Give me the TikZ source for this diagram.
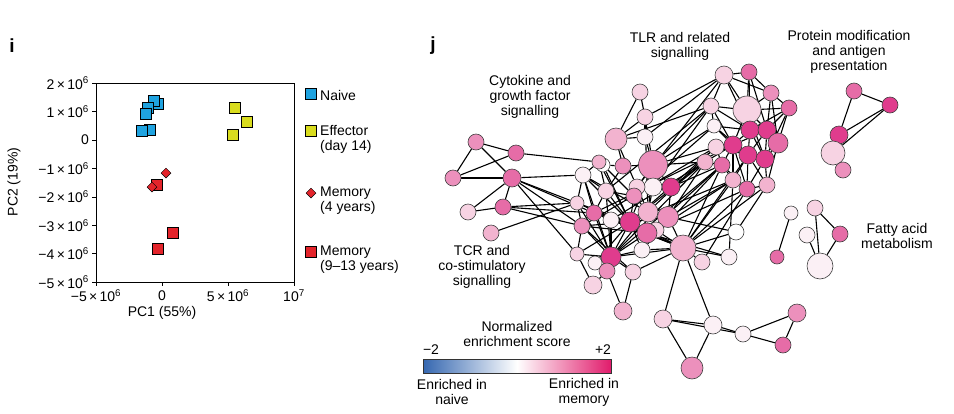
\documentclass[tikz,border=0pt]{standalone}
\usepackage{fontspec}
\setmainfont{Liberation Sans}
\usetikzlibrary{shapes.geometric}
\definecolor{P0}{HTML}{FBF0F5}
\definecolor{P1}{HTML}{F7D3E3}
\definecolor{P2}{HTML}{F2B3CF}
\definecolor{P3}{HTML}{EC90BC}
\definecolor{P4}{HTML}{E66CA7}
\definecolor{P5}{HTML}{E03C8D}
\definecolor{nv}{HTML}{1FA3E0}
\definecolor{ef}{HTML}{D9DC1E}
\definecolor{mr}{HTML}{E3242B}
\definecolor{cbB}{HTML}{3567B0}
\definecolor{cbR}{HTML}{E11C6C}
\pgfdeclarelayer{bg}
\pgfsetlayers{bg,main}
\newcommand{\tn}[1]{#1\,\texttimes\,10\textsuperscript{6}}
\begin{document}
\begin{tikzpicture}[x=1pt,y=-1pt,font=\fontsize{14}{15}\selectfont,
  nd/.style={circle,draw=black!75,line width=0.6pt,inner sep=0pt},
  sq/.style={rectangle,draw=black,line width=0.6pt,inner sep=0pt,minimum size=11pt},
  dm/.style={diamond,draw=black,line width=0.5pt,inner sep=0pt,minimum size=10pt,fill=mr},
  ed/.style={line width=1.1pt,black},
  lab/.style={align=center,inner sep=0pt},
  tk/.style={anchor=east,inner sep=0pt}]
\useasboundingbox (0,0) rectangle (954,413);
% ---------- panel i ----------
\node[font=\fontsize{19}{19}\selectfont\bfseries] (li) at (12,46) {i};
\node[font=\fontsize{19}{19}\selectfont\bfseries] (lj) at (433,46) {j};
\coordinate (bl) at (96,282); \coordinate (tr) at (294,83);
\draw[line width=0.7pt] (bl) rectangle (tr);
\foreach \v/\t [count=\i from 0] in {2/\tn{2},1/\tn{1},0/0,-1/\tn{\textminus1},-2/\tn{\textminus2},-3/\tn{\textminus3},-4/\tn{\textminus4},-5/\tn{\textminus5}}{
  \draw[line width=0.7pt] (96,140-28.43*\v) -- (92,140-28.43*\v);
  \node[tk] (yt\i) at (89,140-28.43*\v) {\t};
}
\foreach \xx/\t [count=\i] in {96/\tn{\textminus5},162/0,228/\tn{5},294/10\textsuperscript{7}}{
  \draw[line width=0.7pt] (\xx,282) -- (\xx,286);
  \node[inner sep=0pt] (xt\i) at (\xx,296) {\t};
}
\node (px) at (162,313) {PC1 (55\%)};
\node[rotate=90] (py) at (14,182) {PC2 (19\%)};
% data
\node[sq,fill=nv] (a1) at (158,104) {};
\node[sq,fill=nv] (a2) at (154,101) {};
\node[sq,fill=nv] (a3) at (148,108) {};
\node[sq,fill=nv] (a4) at (146,114) {};
\node[sq,fill=nv] (a5) at (150,130) {};
\node[sq,fill=nv] (a6) at (142,131) {};
\node[sq,fill=ef] (b1) at (235,108) {};
\node[sq,fill=ef] (b2) at (247,122) {};
\node[sq,fill=ef] (b3) at (233,135) {};
\node[dm] (d1) at (166,173) {};
\node[sq,fill=mr] (d3) at (157,185) {};
\node[dm] (d2) at (152,187) {};
\node[sq,fill=mr] (e1) at (173,233) {};
\node[sq,fill=mr] (e2) at (158,249) {};
% legend
\node[sq,fill=nv] (g1) at (311,94) {};
\node[anchor=west,lab] (g1t) at (320,95) {Naive};
\node[sq,fill=ef] (g2) at (311,131) {};
\node[anchor=west,lab,align=left] (g2t) at (320,139) {Effector\\(day 14)};
\node[dm] (g3) at (311,193) {};
\node[anchor=west,lab,align=left] (g3t) at (320,201) {Memory\\(4 years)};
\node[sq,fill=mr] (g4) at (311,252) {};
\node[anchor=west,lab,align=left] (g4t) at (320,260) {Memory\\(9--13 years)};
% ---------- panel j ----------
\foreach \n/\x/\y/\s/\c in {
 c1/476/142/16/P3, c2/516/153/16/P4, c3/453/178/16/P3, c4/512/178/18/P4, c5/468/212/16/P1, c6/503/207/16/P4, c7/491/233/16/P2,
 n1/640/92/16/P1, n2/645/117/16/P1, n3/616/139/22/P2, n4/645/137/16/P0, n5/653/165/29/P3, n6/623/166/16/P3, n7/603/165/14/white, n8/599/162/14/P2,
 n9/583/175/16/P0, n10/653/187/18/P0, n11/671/187/18/P5, n12/637/187/16/P1, n13/606/191/16/P1, n14/634/196/16/P3, n15/577/203/14/P1,
 n16/648/212/20/P2, n17/668/217/21/P3, n18/594/213/16/P4, n19/611/220/16/P0, n20/630/222/20/P5, n21/656/230/16/P1, n22/647/233/20/P4, n23/582/226/16/P3,
 n24/683/248/26/P2, n25/736/232/16/white, n26/729/257/16/P0, n27/702/262/16/P1, n28/611/257/20/P5, n29/642/250/16/P0, n30/577/254/14/P1, n31/595/263/14/P0,
 n32/607/271/16/P3, n33/633/272/16/P1, n34/593/285/18/P1,
 t1/724/75/18/P1, t2/749/72/16/P4, t3/771/93/16/P3, t4/711/106/16/P1, t5/747/110/28/P1, t6/789/108/16/P4, t7/714/126/14/P0, t8/750/130/18/P5,
 t9/767/130/18/P5, t10/778/143/20/P4, t11/716/147/16/P1, t12/733/145/18/P5, t13/748/155/18/P5, t14/765/159/18/P5, t15/705/162/16/P2, t16/722/165/16/P4,
 t17/733/180/16/P2, t18/747/189/16/P4, t19/767/185/16/P2,
 p1/854/91/16/P4, p2/890/105/16/P5, p3/839/135/18/P5, p4/833/153/24/P1, p5/843/170/16/P3,
 f1/791/213/14/P0, f2/777/257/14/P4, f3/815/208/16/P1, f4/807/235/16/P0, f5/840/234/16/P4, f6/820/266/26/P0,
 l1/623/311/18/P2, l2/663/319/18/P1, l3/713/325/18/P0, l4/743/334/16/P0, l5/797/313/18/P3, l6/783/345/16/P4, l7/692/368/22/P3}{
 \node[nd,fill=\c,minimum size=\s pt] (\n) at (\x,\y) {};
}
\begin{pgfonlayer}{bg}
\foreach \a/\b in {c1/c2,c1/c3,c1/c4,c3/c2,c3/c4,c4/c6,c5/c6,c5/c4,c6/n23,c4/n15,c4/n9,c4/n18,c4/n23,c2/n8,c7/n15,c6/n18,c4/n30,c6/n15,
 n1/n2,n1/n3,n2/n3,n2/n4,n3/n4,n2/n5,n4/n5,n3/n6,n6/n5,n7/n6,n8/n9,n9/n13,n9/n15,n5/n10,n5/n11,n5/n12,n12/n14,n13/n14,n10/n11,n14/n16,n16/n17,n17/n20,
 n18/n20,n19/n20,n20/n22,n21/n22,n16/n22,n17/n24,n20/n24,n22/n24,n24/n25,n24/n26,n24/n27,n28/n24,n28/n29,n29/n24,n28/n30,n28/n31,n28/n32,n28/n33,
 n32/n34,n30/n34,n31/n32,n23/n28,n18/n28,n19/n28,n15/n23,n13/n18,n14/n20,n12/n16,n6/n13,n10/n16,n11/n17,n8/n13,n9/n18,n15/n28,n23/n20,n22/n28,
 n20/n28,n16/n28,n21/n24,n19/n22,n17/n22,n33/n24,n29/n20,n26/n22,n25/n17,n3/n12,n2/n16,n5/n16,n5/n20,n7/n14,n18/n19,n23/n30,n15/n20,n9/n20,n13/n28,n23/n33,
 n9/n28,n15/n22,n18/n22,n23/n22,n13/n20,n8/n20,n19/n24,n18/n24,n15/n24,n30/n20,n31/n20,n29/n22,n7/n20,n9/n16,
 n3/t4,n4/t1,n2/t1,n5/t4,n5/t7,n5/t11,n5/t15,n11/t15,n11/t16,n17/t15,n17/t17,n24/t17,n24/t16,n24/t18,n24/t19,n28/t15,n22/t16,n20/t11,n16/t11,n14/t7,
 n10/t4,n12/t1,n21/t17,n27/t18,n25/t19,n26/t17,n20/t17,n24/t13,n29/t16,n18/t12,n13/t4,n19/t15,n28/t16,n23/t11,n22/t18,n20/t15,
 t1/t2,t1/t5,t1/t3,t2/t3,t2/t5,t3/t6,t3/t5,t4/t5,t4/t8,t5/t6,t5/t8,t5/t9,t6/t9,t6/t10,t6/t14,t7/t8,t7/t12,t8/t9,t8/t12,t8/t13,t9/t10,t9/t13,t9/t14,
 t10/t14,t10/t19,t11/t12,t11/t16,t12/t13,t12/t16,t12/t17,t13/t14,t13/t17,t13/t18,t14/t19,t14/t18,t15/t16,t16/t17,t16/t18,t17/t18,t18/t19,t13/t19,
 t12/t18,t4/t12,t4/t7,t2/t8,t2/t9,t3/t9,t3/t10,t6/t8,t7/t13,t11/t13,t15/t12,t5/t12,t5/t14,t8/t14,t9/t12,t1/t4,t12/t14,t1/t8,
 n32/l1,n33/l1,n24/l2,n24/l3,l2/l3,l2/l7,l3/l7,l3/l4,l4/l5,l4/l6,l5/l6,l2/l4,
 p1/p2,p1/p3,p2/p3,p2/p4,p3/p4,p4/p5,
 f1/f2,f3/f6,f3/f5,f5/f6,f4/f6}{
 \draw[ed] (\a) -- (\b);
}
\end{pgfonlayer}
% labels
\node[lab] (tlr) at (680,46) {TLR and related\\signalling};
\node[lab] (prot) at (849,52) {Protein modification\\and antigen\\presentation};
\node[lab] (cyto) at (530,97) {Cytokine and\\growth factor\\signalling};
\node[lab] (tcr) at (482,267) {TCR and\\co-stimulatory\\signalling};
\node[lab] (fat) at (897,236) {Fatty acid\\metabolism};
% colour bar
\node[lab] (nes) at (517,334) {Normalized\\enrichment score};
\shade[left color=cbB,right color=cbR,middle color=white,draw=black!80,line width=0.6pt] (423,359) rectangle (611,373);
\node[lab] (m2) at (431,350) {\textminus2};
\node[lab] (p2l) at (603,350) {+2};
\node[lab] (en) at (452,392) {Enriched in\\naive};
\node[lab] (em) at (584,392) {Enriched in\\memory};
\end{tikzpicture}
\end{document}
